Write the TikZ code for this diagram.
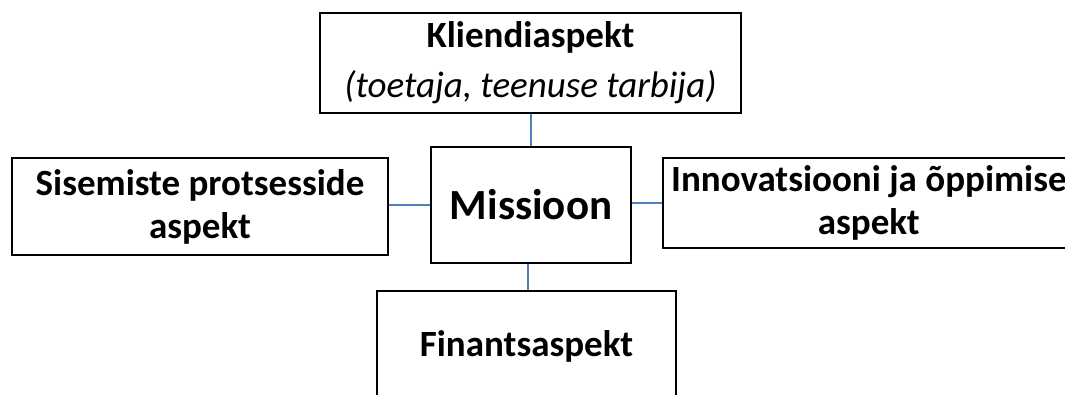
\documentclass[tikz,border=0pt]{standalone}
\usepackage{fontspec}
\setmainfont{Carlito}
\begin{document}
\begin{tikzpicture}[x=1pt,y=-1pt,
  aspectbox/.style={draw=black,line width=1.6pt,fill=white,inner sep=0pt,
    align=center,font=\bfseries\fontsize{37}{43}\selectfont},
  link/.style={draw=linkblue,line width=1.4pt}]
\definecolor{linkblue}{HTML}{4F81BD}
\useasboundingbox (0,0) rectangle (1065,394);
\clip (0,0) rectangle (1065,394);
% boxes
\node[aspectbox,minimum width=421pt,minimum height=100pt] (klient) at (530.5,63)
  {\raisebox{-3pt}{Kliendiaspekt}\\[10pt]{\mdseries\itshape (toetaja, teenuse tarbija)}};
\node[aspectbox,minimum width=200pt,minimum height=116pt,
  font=\bfseries\fontsize{43}{50}\selectfont] (missioon) at (531,205) {Missioon};
\node[aspectbox,minimum width=376pt,minimum height=97pt] (sisemine) at (200,206.5)
  {Sisemiste protsesside\\aspekt};
\node[aspectbox,minimum width=412pt,minimum height=90pt,anchor=west] (innov) at (662,203)
  {Innovatsiooni ja õppimise\\aspekt};
\node[aspectbox,minimum width=299pt,minimum height=110pt] (finants) at (526.5,346)
  {Finantsaspekt};
% connectors
\draw[link] (klient.south -| missioon.north) -- (missioon.north);
\draw[link] (sisemine.east |- missioon.west) -- (missioon.west);
\draw[link] (missioon.east |- innov.west) -- (innov.west);
\draw[link] ([xshift=-3pt]missioon.south) -- ([xshift=-3pt]missioon.south |- finants.north);
\end{tikzpicture}
\end{document}
